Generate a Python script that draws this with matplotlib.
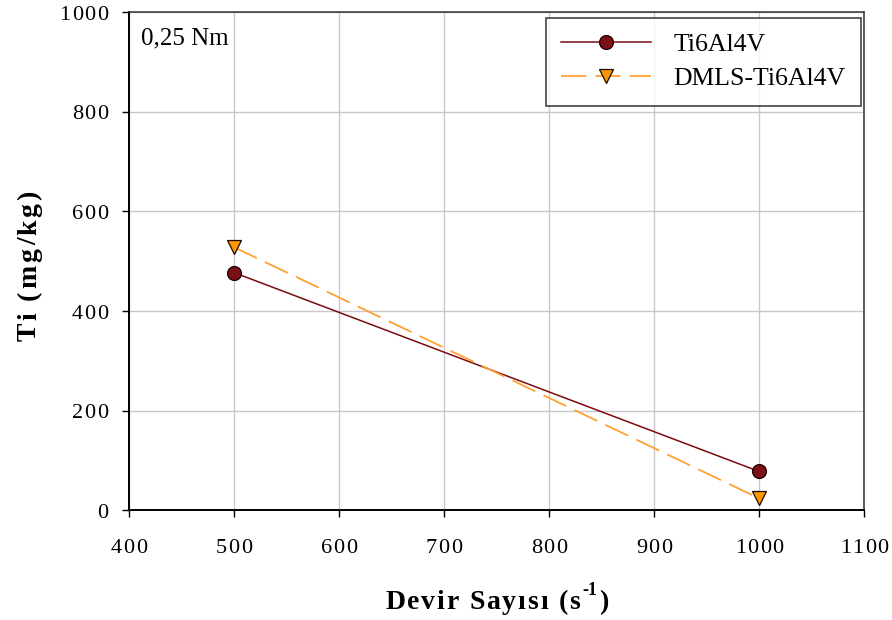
import matplotlib
matplotlib.use("Agg")
import matplotlib.pyplot as plt
from matplotlib import transforms
from matplotlib.font_manager import FontProperties, findfont
from matplotlib.ft2font import FT2Font

speed = [500, 1000]
ti_wrought = [477, 78]
ti_dmls = [528, 24]
series_labels = ["Ti6Al4V", "DMLS-Ti6Al4V"]
x_ticks = [400, 500, 600, 700, 800, 900, 1000, 1100]
y_ticks = [0, 200, 400, 600, 800, 1000]
torque_note = "0,25 Nm"

SERIF = ["Liberation Serif", "DejaVu Serif"]
plt.rcParams["font.family"] = SERIF


def text_advance(text, size, weight):
    """Total advance width (points) of a string in Liberation Serif."""
    fp = FontProperties(family="Liberation Serif", weight=weight, size=size)
    font = FT2Font(findfont(fp))
    font.set_size(size, 72)
    return sum(font.load_char(ord(c)).linearHoriAdvance / 65536.0 for c in text)


def tracked_text(fig, base, x, y, pieces, spacing, weight="bold",
                 align="center", vertical=False, shift=0.0):
    """Draw letter-spaced text anchored at (x, y) in the `base` transform.

    pieces: list of (text, size, rise_pt, tracked). Tracked pieces are split
    into single characters; untracked ones are drawn as one unit.
    `shift` moves the whole run along its direction (points).
    """
    units = []
    for text, size, rise, tracked in pieces:
        chunks = list(text) if tracked else [text]
        for chunk in chunks:
            units.append((chunk, size, rise, text_advance(chunk, size, weight)))
    total = sum(u[3] for u in units) + spacing * (len(units) - 1)
    pos = shift - (total / 2.0 if align == "center" else total)
    for chunk, size, rise, adv in units:
        if vertical:
            tr = transforms.offset_copy(base, fig=fig, x=-rise, y=pos, units="points")
            fig.text(x, y, chunk, transform=tr, fontsize=size, fontweight=weight,
                     rotation=90, rotation_mode="anchor", ha="left", va="baseline")
        else:
            tr = transforms.offset_copy(base, fig=fig, x=pos, y=rise, units="points")
            fig.text(x, y, chunk, transform=tr, fontsize=size, fontweight=weight,
                     ha="left", va="baseline")
        pos += adv + spacing


fig = plt.figure(figsize=(8.92, 6.2), dpi=100)
ax = fig.add_axes([0.1446, 0.177, 0.8240, 0.8036])

ax.plot(speed, ti_wrought, color="#7a0c10", lw=1.1, marker="o", ms=10,
        mfc="#7d1016", mec="#1a0000", mew=0.9, label=series_labels[0], zorder=3)
ax.plot(speed, ti_dmls, color="#ffa034", lw=1.3, ls=(0, (14, 5)), marker="v", ms=10,
        mfc="#ff9500", mec="#1a0a00", mew=0.9, label=series_labels[1], zorder=3)

ax.set_xlim(400, 1100)
ax.set_ylim(0, 1000)
ax.set_xticks(x_ticks)
ax.set_yticks(y_ticks)
ax.grid(True, color="#c8c8c8", lw=1.0)
ax.set_axisbelow(True)

for side in ["left", "bottom"]:
    ax.spines[side].set_linewidth(1.4)
    ax.spines[side].set_color("black")
for side in ["top", "right"]:
    ax.spines[side].set_linewidth(1.1)
    ax.spines[side].set_color("#303030")

ax.tick_params(direction="out", length=5, width=1.0,
               labelbottom=False, labelleft=False)

# tick labels, set slightly tracked like the rest of the lettering
x_base = transforms.blended_transform_factory(ax.transData, ax.transAxes)
for v in x_ticks:
    tracked_text(fig, x_base, v, 0, [(str(v), 16, -31, True)], spacing=1.0,
                 weight="normal", align="center")
y_base = transforms.blended_transform_factory(ax.transAxes, ax.transData)
for v in y_ticks:
    tracked_text(fig, y_base, 0, v, [(str(v), 16, -5.5, True)], spacing=1.0,
                 weight="normal", align="right", shift=-15)

ax.text(0.016, 0.934, torque_note, transform=ax.transAxes, fontsize=18,
        ha="left", va="baseline")

leg = ax.legend(loc="upper right", bbox_to_anchor=(0.9959, 0.988), fontsize=18.5,
                frameon=True, fancybox=False, edgecolor="black",
                handlelength=3.5, borderpad=0.6, labelspacing=0.42,
                handletextpad=0.86, borderaxespad=0.0)
leg.get_frame().set_linewidth(1.1)

# axis titles
tracked_text(fig, fig.transFigure, 0.5567, 0.018,
             [("Devir Sayısı (s", 20, 0, True), ("-1", 13, 10, False), (")", 20, 0, True)],
             spacing=1.3)
tracked_text(fig, fig.transFigure, 0.0404, 0.571, [("Ti (mg/kg)", 20, 0, True)],
             spacing=2.0, vertical=True)

fig.savefig("out.png", dpi=100)
